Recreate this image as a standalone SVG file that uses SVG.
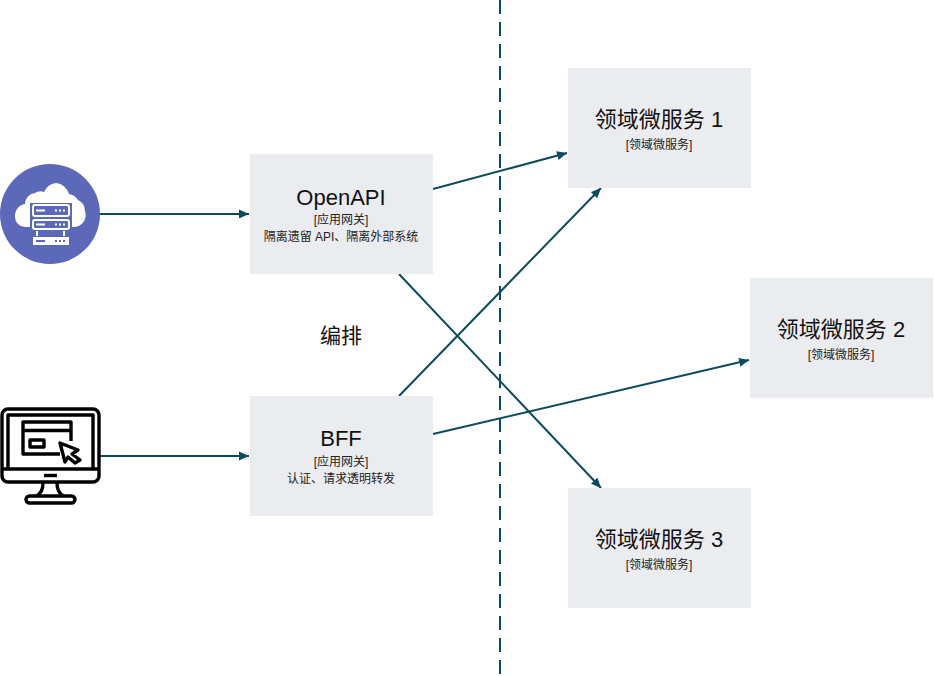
<svg xmlns="http://www.w3.org/2000/svg" width="934" height="676" viewBox="0 0 934 676">
<style>
text{font-family:"Liberation Sans","Noto Sans CJK SC",sans-serif;text-anchor:middle;fill:#111}
.t{font-size:22px}.s{font-size:12px;fill:#222}
.b{fill:#ebecf0}
.c{stroke:#0c4a5e;stroke-width:2;fill:none;marker-end:url(#a)}
.k{fill:none;stroke:#000;stroke-width:3.4;stroke-linejoin:round}
.w{fill:#fff}
.o{fill:#5c68b8;stroke:#fff;stroke-width:2}
.p{fill:#5c68b8}
</style>
<defs><marker id="a" markerUnits="userSpaceOnUse" markerWidth="12" markerHeight="10" refX="10" refY="5" orient="auto"><path d="M0 0.500L10 5L0 9.500z" fill="#0c4a5e"/></marker></defs>
<rect width="934" height="676" fill="#fff"/>
<g id="connectors">
<path d="M100 214H249" class="c"/>
<path d="M100 456H249" class="c"/>
<path d="M433 189L567 153" class="c"/>
<path d="M399 274L601 488" class="c"/>
<path d="M399 396L601 188" class="c"/>
<path d="M433 434L749 360" class="c"/>
<path d="M500 0V676" fill="none" stroke="#0c4a5e" stroke-width="2" stroke-dasharray="14 8"/>
</g>
<g id="cloud-icon">
<circle cx="50" cy="214" r="50" fill="#5c68b8"/>
<path class="w" d="M25 227a10 10 0 0 1-10-10a12 12 0 0 1 10-13a11 11 0 0 1 10-11a9 9 0 0 1 9-1a15 15 0 0 1 12-9a15 15 0 0 1 13 11a13 13 0 0 1 9 6a12 12 0 0 1 7 11a12 12 0 0 1-12 16z"/>
<rect class="p" x="30" y="203" width="42" height="44"/>
<rect class="o" x="33" y="205" width="36" height="11" rx="2"/>
<rect class="o" x="33" y="220" width="36" height="9" rx="2"/>
<rect class="w" x="33" y="237" width="36" height="8"/>
<path class="w" d="M36 209.500h9v2h-9zM55 209.500h2v2h-2zM59 209.500h2v2h-2zM63 209.500h2v2h-2z"/>
<path class="w" d="M36 223.500h9v2h-9zM55 223.500h2v2h-2zM59 223.500h2v2h-2zM63 223.500h2v2h-2z"/>
<path class="p" d="M36 240h9v2h-9zM55 240h2v2h-2zM59 240h2v2h-2zM63 240h2v2h-2z"/>
<rect class="w" x="36" y="231" width="2" height="5"/><rect class="w" x="63" y="231" width="2" height="5"/>
</g>
<g id="monitor-icon">
<rect class="k" x="2" y="409" width="97" height="73" rx="6"/>
<path class="k" d="M8 469V415H93V469M2 469H99"/>
<path class="k" d="M44 475.500h13"/>
<path class="k" d="M43 483c0 7-2 11-7 13M57 483c0 7 2 11 7 13"/>
<rect class="k" x="26" y="496" width="49" height="7" rx="3.500"/>
<path class="k" d="M60 454H23V422H71V441M23 430.500H71"/>
<rect class="k" x="30" y="440" width="14" height="7"/>
<path class="k" d="M60 443L78 450L72 454L80 460L75 463L68 457L65 462z"/>
</g>
<g id="openapi"><rect class="b" x="250" y="154" width="183" height="120"/>
<text class="t" x="341" y="205">OpenAPI</text><text class="s" x="341" y="224">[应用网关]</text><text class="s" x="341" y="241">隔离遗留 API、隔离外部系统</text></g>
<g id="bff"><rect class="b" x="250" y="396" width="183" height="120"/>
<text class="t" x="341" y="446">BFF</text><text class="s" x="341" y="466">[应用网关]</text><text class="s" x="341" y="483">认证、请求透明转发</text></g>
<g id="service-1"><rect class="b" x="568" y="68" width="183" height="120"/>
<text class="t" x="659" y="127">领域微服务 1</text><text class="s" x="659" y="149">[领域微服务]</text></g>
<g id="service-2"><rect class="b" x="750" y="278" width="183" height="120"/>
<text class="t" x="841" y="337">领域微服务 2</text><text class="s" x="841" y="359">[领域微服务]</text></g>
<g id="service-3"><rect class="b" x="568" y="488" width="183" height="120"/>
<text class="t" x="659" y="547">领域微服务 3</text><text class="s" x="659" y="569">[领域微服务]</text></g>
<g id="label"><text x="341" y="343" style="font-size:21px">编排</text></g>
</svg>
